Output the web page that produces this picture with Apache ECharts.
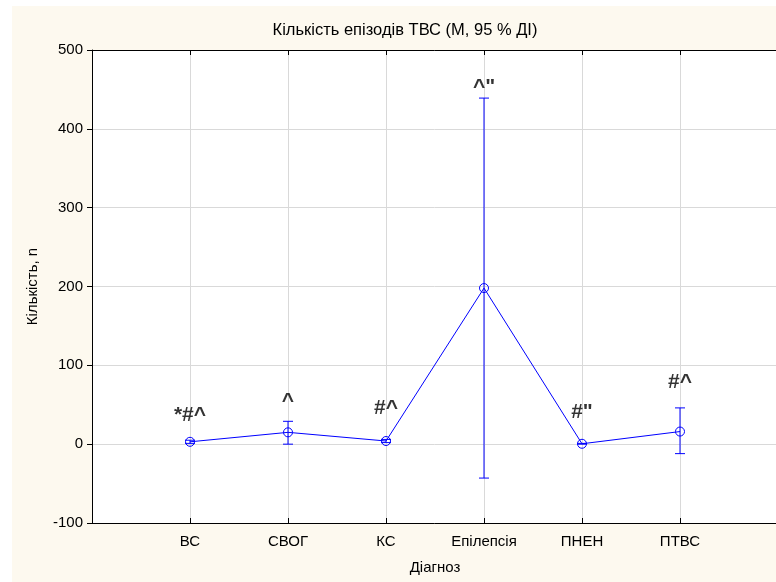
<!DOCTYPE html>
<html>
<head>
<meta charset="utf-8">
<script src="https://cdn.jsdelivr.net/npm/echarts@6/dist/echarts.min.js"></script>
<style>
  html, body { margin: 0; padding: 0; background: #fff; overflow: hidden; }
  #chart { width: 776px; height: 582px; }
</style>
</head>
<body>
<div id="chart"></div>
<script>
// діагнози
const categories = ['ВС', 'СВОГ', 'КС', 'Епілепсія', 'ПНЕН', 'ПТВС']
// середнє та 95% ДІ
const means = [3, 15, 4, 198, 0.5, 16]
const ciLow = [1, 0, 2, -43, 0, -12]
const ciHigh = [5, 29, 6, 439, 1, 46]
// позначки над точками
const marks = ['*#^', '^', '#^', '^"', '#"', '#^']
const markY = [37, 54, 46, 453, 41, 79]
const yTicks = [-100, 0, 100, 200, 300, 400, 500]

const chart = echarts.init(document.getElementById('chart'))

const font = 'Arial, "Liberation Sans", sans-serif'

const xAxisBase = {
  type: 'value',
  min: 0,
  max: categories.length + 1,
  interval: 1,
  axisLine: { onZero: false, lineStyle: { color: '#000', width: 1 } },
  axisTick: { inside: true, length: 5, lineStyle: { color: '#000' } },
  splitLine: { show: true, lineStyle: { color: '#d9d9d9', width: 1 } }
}

const option = {
  backgroundColor: '#fff',
  animation: false,
  graphic: [{
    type: 'rect',
    z: -10,
    shape: { x: 12, y: 6, width: 770, height: 576 },
    style: { fill: '#fdf9ef' }
  }, {
    type: 'rect',
    z: -9,
    shape: { x: 92, y: 50, width: 686, height: 473 },
    style: { fill: '#fff' }
  }],
  title: {
    text: 'Кількість епізодів ТВС (М, 95 % ДІ)',
    left: 400,
    textAlign: 'center',
    top: 17,
    textStyle: { fontFamily: font, fontSize: 16.5, fontWeight: 'normal', color: '#000' }
  },
  grid: { left: 92, right: -2, top: 50, bottom: 59, outerBoundsMode: 'none', containLabel: false },
  xAxis: [
    Object.assign({}, xAxisBase, {
      position: 'bottom',
      name: 'Діагноз',
      nameLocation: 'middle',
      nameGap: 37,
      nameTextStyle: { fontFamily: font, fontSize: 15, color: '#000' },
      axisLabel: {
        margin: 11,
        fontFamily: font, fontSize: 15, color: '#000',
        formatter: v => categories[v - 1] || ''
      }
    }),
    Object.assign({}, xAxisBase, {
      position: 'top',
      axisLabel: { show: false }
    })
  ],
  yAxis: [{
    type: 'value',
    min: yTicks[0],
    max: yTicks[yTicks.length - 1],
    interval: 100,
    name: 'Кількість, n',
    nameLocation: 'middle',
    nameRotate: 90,
    nameGap: 52,
    nameTextStyle: { fontFamily: font, fontSize: 15, color: '#000' },
    axisLine: { show: true, onZero: false, lineStyle: { color: '#000', width: 1 } },
    axisTick: { show: true, length: 5, lineStyle: { color: '#000' } },
    axisLabel: { margin: 9, fontFamily: font, fontSize: 15, color: '#000' },
    splitLine: { show: true, lineStyle: { color: '#d9d9d9', width: 1 } }
  }, {
    type: 'value',
    position: 'right',
    min: yTicks[0],
    max: yTicks[yTicks.length - 1],
    interval: 100,
    axisLine: { show: false },
    axisTick: { show: true, inside: true, length: 5, lineStyle: { color: '#000' } },
    axisLabel: { show: false },
    splitLine: { show: false }
  }],
  series: [
    {
      type: 'custom',
      data: categories.map((c, i) => [i + 1, ciLow[i], ciHigh[i]]),
      renderItem: (params, api) => {
        const x = api.value(0)
        const lo = api.coord([x, api.value(1)])
        const hi = api.coord([x, api.value(2)])
        const w = 5
        const style = { stroke: '#0000ff', lineWidth: 1 }
        return {
          type: 'group',
          children: [
            { type: 'line', shape: { x1: lo[0], y1: lo[1], x2: hi[0], y2: hi[1] }, style },
            { type: 'line', shape: { x1: lo[0] - w, y1: lo[1], x2: lo[0] + w, y2: lo[1] }, style },
            { type: 'line', shape: { x1: hi[0] - w, y1: hi[1], x2: hi[0] + w, y2: hi[1] }, style }
          ]
        }
      },
      z: 2
    },
    {
      type: 'line',
      data: means.map((v, i) => [i + 1, v]),
      symbol: 'circle',
      symbolSize: 9,
      lineStyle: { color: '#0000ff', width: 1 },
      itemStyle: { color: 'rgba(255,255,255,0)', borderColor: '#0000ff', borderWidth: 1 },
      z: 3
    },
    {
      type: 'scatter',
      data: marks.map((m, i) => ({ value: [i + 1, markY[i]], name: m })),
      symbolSize: 0,
      label: {
        show: true,
        position: 'inside',
        formatter: p => p.name,
        fontFamily: font,
        fontSize: 21,
        fontWeight: 'bold',
        color: '#000'
      },
      z: 4
    }
  ]
}

chart.setOption(option)
</script>
</body>
</html>
